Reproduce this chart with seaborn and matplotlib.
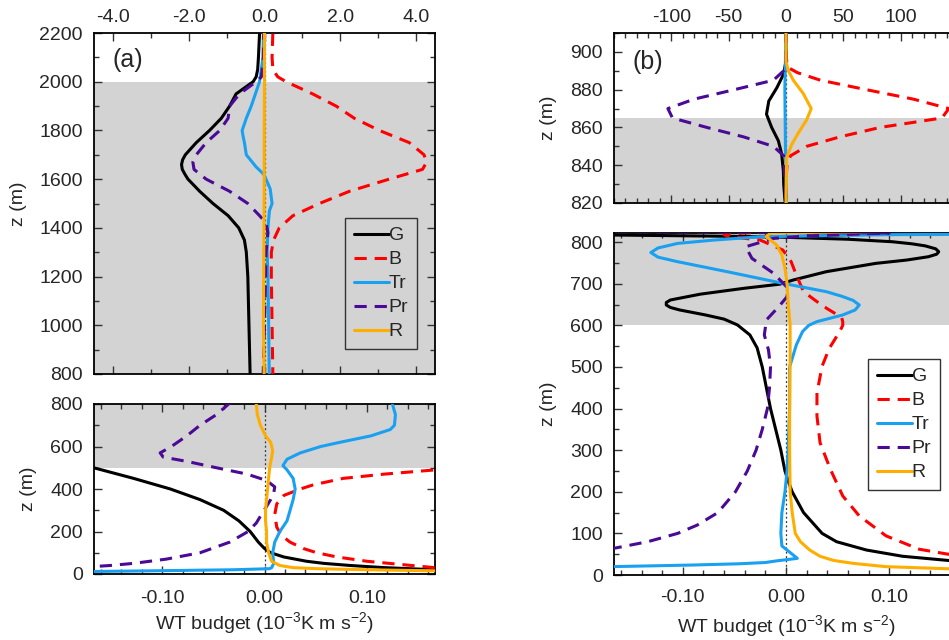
import pandas as pd
import matplotlib
matplotlib.use("Agg")
import matplotlib.pyplot as plt
from matplotlib.lines import Line2D
from matplotlib.ticker import MultipleLocator, FixedLocator, FormatStrFormatter
import seaborn as sns

# --- Panel (a) profiles: (z in m, budget in 1e-3 K m s-2) ---
a_g_z = [0, 10, 20, 30, 40, 50, 60, 80, 100, 120, 150, 200, 250, 300, 350, 400, 450, 500,
         600, 700, 800, 1000, 1200, 1300, 1350, 1400, 1450, 1500, 1550, 1600, 1620, 1640, 1660,
         1680, 1700, 1750, 1800, 1850, 1900, 1950, 1980, 2000, 2020, 2050, 2100, 2200]
a_g = [0.6, 0.3, 0.166, 0.117, 0.084, 0.058, 0.041, 0.019, 0.006, 0.0, -0.006, -0.014, -0.025,
       -0.040, -0.063, -0.092, -0.128, -0.167, -0.26, -0.33, -0.38, -0.41, -0.44, -0.48, -0.53,
       -0.68, -0.96, -1.36, -1.71, -2.02, -2.1, -2.17, -2.19, -2.16, -2.09, -1.8, -1.45, -1.14,
       -0.92, -0.75, -0.48, -0.3, -0.22, -0.18, -0.16, -0.13]

a_b_z = [0, 15, 30, 45, 60, 80, 100, 120, 150, 180, 220, 280, 330, 370, 400, 420, 450, 470, 490,
         550, 650, 800, 1000, 1200, 1300, 1350, 1400, 1450, 1500, 1550, 1600, 1640, 1670, 1700,
         1750, 1800, 1850, 1900, 1950, 2000, 2020, 2050, 2100, 2200]
a_b = [0.6, 0.3, 0.166, 0.133, 0.10, 0.071, 0.051, 0.038, 0.025, 0.017, 0.012, 0.010, 0.012,
       0.019, 0.035, 0.048, 0.077, 0.117, 0.167, 0.19, 0.21, 0.22, 0.2, 0.18, 0.18, 0.24, 0.39,
       0.75, 1.45, 2.24, 3.29, 4.17, 4.28, 4.21, 3.82, 3.03, 2.37, 1.89, 1.27, 0.57, 0.35, 0.22,
       0.2, 0.22]

a_tr_z = [0, 10, 15, 20, 25, 30, 50, 100, 150, 200, 250, 300, 350, 400, 450, 490, 510, 540, 570,
          600, 620, 650, 680, 700, 750, 800, 1000, 1200, 1300, 1400, 1470, 1500, 1560, 1600, 1620,
          1650, 1700, 1750, 1780, 1800, 1850, 1900, 1950, 2000, 2100, 2200]
a_tr = [-0.5, -0.2, -0.11, -0.03, 0.005, 0.007, 0.009, 0.008, 0.010, 0.015, 0.022, 0.025, 0.028,
        0.030, 0.028, 0.022, 0.018, 0.022, 0.035, 0.055, 0.074, 0.104, 0.123, 0.127, 0.128, 0.125,
        0.11, 0.09, 0.07, 0.09, 0.13, 0.2, 0.15, 0.04, -0.02, -0.22, -0.48, -0.53, -0.57, -0.59,
        -0.48, -0.35, -0.24, -0.13, -0.04, -0.03]

a_pr_z = [0, 20, 35, 40, 50, 70, 100, 150, 200, 240, 280, 310, 350, 380, 410, 440, 470, 500, 530,
          550, 570, 600, 650, 700, 750, 800, 1000, 1200, 1300, 1380, 1420, 1450, 1500, 1550, 1600,
          1640, 1670, 1700, 1750, 1800, 1850, 1900, 1950, 2000, 2020, 2100, 2200]
a_pr = [-0.6, -0.3, -0.167, -0.151, -0.128, -0.096, -0.063, -0.034, -0.016, -0.008, -0.003, 0.001,
        0.006, 0.009, 0.010, 0.002, -0.017, -0.047, -0.076, -0.099, -0.102, -0.091, -0.076, -0.063,
        -0.047, -0.035, 0.0, 0.03, 0.04, 0.09, 0.04, -0.13, -0.44, -0.92, -1.54, -1.86, -1.89,
        -1.8, -1.54, -1.18, -0.96, -0.92, -0.66, -0.22, -0.08, -0.03, -0.02]

a_r_z = [0, 10, 15, 20, 25, 30, 40, 60, 100, 150, 200, 250, 300, 350, 400, 450, 500, 550, 580,
         620, 650, 700, 750, 800, 1000, 1500, 2200]
a_r = [0.5, 0.3, 0.166, 0.10, 0.051, 0.028, 0.015, 0.007, 0.004, 0.002, 0.002, 0.001, 0.001,
       0.002, 0.003, 0.004, 0.005, 0.007, 0.008, 0.006, 0.001, -0.004, -0.007, -0.008, -0.03,
       -0.01, 0.0]

# --- Panel (b) profiles ---
b_g_z = [0, 20, 30, 35, 45, 60, 80, 100, 150, 200, 220, 250, 300, 350, 400, 500, 546, 577, 601,
         615, 625, 637, 643, 649, 655, 661, 675, 689, 699, 709, 729, 749, 757, 765, 771, 777, 784,
         791, 796, 801, 807, 812, 814, 818, 822, 830, 837, 846, 853, 860, 867, 874, 881, 888, 895,
         910]
b_g = [0.6, 0.3, 0.18, 0.157, 0.113, 0.078, 0.049, 0.035, 0.017, 0.006, 0.003, -0.001, -0.005,
       -0.010, -0.015, -0.023, -0.028, -0.035, -0.047, -0.060, -0.078, -0.103, -0.112, -0.116,
       -0.116, -0.112, -0.083, -0.041, -0.006, 0.007, 0.039, 0.087, 0.117, 0.138, 0.146, 0.148,
       0.145, 0.135, 0.122, 0.103, 0.060, -0.005, -0.05, -0.2, -1.0, -2.0, -2.3, -3.8, -6.7,
       -12.5, -17, -15, -8, -2.3, 0, 0]

b_b_z = [0, 30, 50, 62, 94, 142, 190, 254, 318, 382, 438, 502, 545, 585, 600, 609, 618, 625, 640,
         657, 681, 721, 753, 781, 805, 813, 818, 822, 835, 841, 845, 850, 855, 860, 865, 870, 875,
         880, 885, 889, 892, 900, 910]
b_b = [0.6, 0.25, 0.157, 0.129, 0.097, 0.071, 0.055, 0.043, 0.033, 0.030, 0.030, 0.035, 0.042,
       0.052, 0.055, 0.055, 0.054, 0.050, 0.040, 0.030, 0.017, 0.010, 0.005, -0.003, -0.025,
       -0.054, -0.06, -0.04, 0.3, 1, 4, 18, 47, 82, 136, 142, 111, 70, 30, 10, 1, 0, 0]

b_tr_z = [0, 10, 18, 21, 24, 27, 30, 34, 40, 50, 70, 100, 150, 200, 250, 300, 400, 500, 553, 585,
          600, 609, 625, 637, 649, 660, 670, 681, 701, 729, 753, 764, 775, 786, 797, 805, 813, 818,
          822, 850, 880, 910]
b_tr = [-0.6, -0.4, -0.22, -0.15, -0.09, -0.045, -0.02, -0.009, 0.011, 0.006, -0.004, -0.005,
        -0.004, -0.001, 0.001, 0.002, 0.0035, 0.0035, 0.010, 0.016, 0.022, 0.030, 0.055, 0.067,
        0.071, 0.065, 0.054, 0.039, -0.003, -0.057, -0.105, -0.124, -0.131, -0.124, -0.105,
        -0.07, -0.025, 0.1, 0.5, -0.5, -1, 0]

b_pr_z = [0, 30, 50, 65, 80, 100, 120, 150, 200, 250, 300, 350, 400, 450, 500, 541, 577, 613, 645,
          669, 689, 725, 761, 789, 809, 815, 822, 845, 850, 855, 860, 865, 870, 875, 880, 885, 890,
          895, 910]
b_pr = [-0.6, -0.35, -0.22, -0.165, -0.134, -0.105, -0.086, -0.066, -0.049, -0.0375, -0.029,
        -0.023, -0.018, -0.016, -0.015, -0.017, -0.021, -0.019, -0.007, 0.001, 0.002, -0.012,
        -0.033, -0.039, -0.012, 0.02, 0.1, -2, -11, -37, -69, -99, -103, -80, -45, -11, -2, 0, 0]

b_r_z = [0, 10, 15, 20, 28, 35, 45, 60, 80, 100, 150, 200, 300, 400, 529, 601, 657, 701, 737,
         769, 793, 813, 822, 844, 851, 857, 864, 870, 878, 885, 890, 895, 910]
b_r = [0.6, 0.3, 0.157, 0.097, 0.065, 0.046, 0.033, 0.023, 0.014, 0.009, 0.006, 0.004, 0.0035,
       0.0035, 0.004, 0.004, 0.002, 0.001, -0.001, -0.004, -0.009, -0.019, -0.015, 0.6, 5, 10.7,
       18, 22, 15, 6.4, 2, 0, 0]

terms = ["G", "B", "Tr", "Pr", "R"]
colors = {"G": "black", "B": "#ff0000", "Tr": "#1aa0f0", "Pr": "#4b0a96", "R": "#ffae00"}
dash_styles = {"G": "", "B": (4, 2.6), "Tr": "", "Pr": (4, 2.6), "R": ""}


def make_frame(profiles):
    rows = []
    for term, (zs, vals) in zip(terms, profiles):
        rows.append(pd.DataFrame({"z": zs, "budget": vals, "term": term}))
    return pd.concat(rows, ignore_index=True)


df_a = make_frame([(a_g_z, a_g), (a_b_z, a_b), (a_tr_z, a_tr), (a_pr_z, a_pr), (a_r_z, a_r)])
df_b = make_frame([(b_g_z, b_g), (b_b_z, b_b), (b_tr_z, b_tr), (b_pr_z, b_pr), (b_r_z, b_r)])

sns.set_style("ticks")
plt.rcParams["font.family"] = ["Liberation Sans", "DejaVu Sans"]
plt.rcParams["mathtext.default"] = "regular"
plt.rcParams["axes.unicode_minus"] = False

W, H = 949, 640
fig = plt.figure(figsize=(W / 100, H / 100), dpi=100)


def px_axes(left, top, right, bottom):
    return fig.add_axes([left / W, 1 - bottom / H, (right - left) / W, (bottom - top) / H])


def draw(ax, df, xlim, ylim, shade, top_labels, xmaj, xmin, ymaj, ymin, xfmt, xpad):
    ax.axhspan(shade[0], shade[1], color="#d3d3d3", lw=0, zorder=0)
    ax.axvline(0, color="#333333", ls=(0, (1.5, 2)), lw=0.9, zorder=1)
    sns.lineplot(data=df, x="budget", y="z", hue="term", style="term", palette=colors,
                 dashes=dash_styles, estimator=None, sort=True, orient="y", legend=False,
                 lw=2.2, ax=ax, zorder=3)
    ax.set_xlim(*xlim)
    ax.set_ylim(*ylim)
    ax.xaxis.set_major_locator(FixedLocator(xmaj))
    ax.xaxis.set_minor_locator(MultipleLocator(xmin))
    ax.xaxis.set_major_formatter(FormatStrFormatter(xfmt))
    ax.yaxis.set_major_locator(MultipleLocator(ymaj))
    ax.yaxis.set_minor_locator(MultipleLocator(ymin))
    ax.tick_params(which="both", direction="in", top=True, bottom=True, left=True, right=True,
                   labeltop=top_labels, labelbottom=not top_labels, labelsize=14, width=1,
                   color="#333333")
    ax.tick_params(which="major", length=6)
    ax.tick_params(which="minor", length=3.5)
    ax.tick_params(axis="x", pad=xpad)
    ax.tick_params(axis="y", pad=8)
    for s in ax.spines.values():
        s.set_linewidth(1.3)
        s.set_color("black")
    ax.set_xlabel("")
    ax.set_ylabel("z (m)", fontsize=14)


def add_legend(ax, anchor):
    handles = [Line2D([], [], color=colors[t], lw=2.2,
                      dashes=dash_styles[t] if dash_styles[t] else (None, None)) for t in terms]
    leg = ax.legend(handles, terms, loc="upper right", bbox_to_anchor=anchor, borderaxespad=0,
                    fontsize=14, handlelength=1.8, handletextpad=0.0, labelspacing=0.33,
                    borderpad=0.45, fancybox=False, frameon=True, framealpha=1)
    leg.get_frame().set_facecolor("none")
    leg.get_frame().set_edgecolor("#333333")
    leg.get_frame().set_linewidth(1.0)


xlab = "WT budget (10$^{-3}$K m s$^{-2}$)"

# panel (a)
ax1 = px_axes(94, 33, 435, 374)
draw(ax1, df_a, (-4.5, 4.5), (800, 2200), (800, 2000), True, [-4, -2, 0, 2, 4], 1.0, 200, 100,
     "%.1f", 5)
ax1.yaxis.set_label_coords(-0.196, 0.5)
ax1.text(0.10, 0.92, "(a)", transform=ax1.transAxes, fontsize=18, ha="center", va="center")
add_legend(ax1, ((417 - 94) / 341, (374 - 218) / 341))

ax2 = px_axes(94, 404, 435, 574)
draw(ax2, df_a, (-1 / 6, 1 / 6), (0, 800), (500, 800), False, [-0.1, 0.0, 0.1], 0.02, 200, 100,
     "%.2f", 11.5)
ax2.yaxis.set_label_coords(-0.167, 0.5)
ax2.set_xlabel(xlab, fontsize=14)
ax2.xaxis.set_label_coords(0.5, -0.215)

# panel (b)
ax3 = px_axes(614, 33, 958, 203)
draw(ax3, df_b, (-150, 150), (820, 910), (820, 865), True, [-100, -50, 0, 50, 100], 10, 20, 10,
     "%d", 5)
ax3.yaxis.set_label_coords(-0.166, 0.5)
ax3.text(0.099, 0.83, "(b)", transform=ax3.transAxes, fontsize=18, ha="center", va="center")

ax4 = px_axes(614, 233, 958, 575)
draw(ax4, df_b, (-1 / 6, 1 / 6), (0, 822), (600, 822), False, [-0.1, 0.0, 0.1], 0.02, 100, 50,
     "%.2f", 10)
ax4.yaxis.set_label_coords(-0.166, 0.5)
ax4.set_xlabel(xlab, fontsize=14)
ax4.xaxis.set_label_coords(0.5, -0.11)
add_legend(ax4, ((940 - 614) / 344, (575 - 359) / 342))

fig.savefig("out.png", dpi=100)
